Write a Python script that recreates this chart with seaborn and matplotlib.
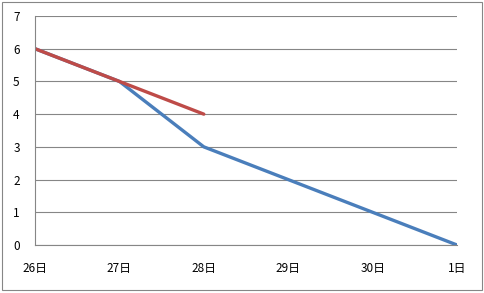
import matplotlib
matplotlib.use("Agg")
import matplotlib.pyplot as plt
import seaborn as sns
import pandas as pd
from matplotlib.patches import Rectangle

days = ["26日", "27日", "28日", "29日", "30日", "1日"]
blue_values = [6, 5, 3, 2, 1, 0]
red_values = [6, 5, 4]

sns.set_style("white")
plt.rcParams['font.family'] = ['Noto Sans CJK JP', 'DejaVu Sans']

fig = plt.figure(figsize=(4.85, 2.93), dpi=100)
ax = fig.add_axes([35/485, 1-245/293, (457-35)/485, (245-16)/293])

df_blue = pd.DataFrame({"x": range(len(blue_values)), "y": blue_values})
df_red = pd.DataFrame({"x": range(len(red_values)), "y": red_values})

sns.lineplot(data=df_blue, x="x", y="y", ax=ax, color="#4a7ebb", linewidth=2.4)
sns.lineplot(data=df_red, x="x", y="y", ax=ax, color="#be4b48", linewidth=2.4)

ax.set_xlim(0, len(days) - 1)
ax.set_ylim(0, 7)
ax.set_xticks(range(len(days)))
ax.set_xticklabels(days)
ax.set_yticks(range(0, 8))
ax.set_xlabel("")
ax.set_ylabel("")
ax.grid(axis="y", color="#868686", linewidth=0.8)
ax.set_axisbelow(True)
for s in ["top", "right"]:
    ax.spines[s].set_visible(False)
for s in ["left", "bottom"]:
    ax.spines[s].set_color("#868686")
    ax.spines[s].set_linewidth(0.8)
ax.tick_params(axis="both", length=4, width=0.8, color="#868686", labelsize=8.5, labelcolor="black")
ax.tick_params(axis="x", pad=8)
ax.tick_params(axis="y", pad=7)

fig.patches.append(Rectangle((2/485, 3/293), 480/485, 288/293, transform=fig.transFigure,
                             fill=False, edgecolor="#868686", linewidth=0.8))

fig.savefig("out.png", dpi=100)
